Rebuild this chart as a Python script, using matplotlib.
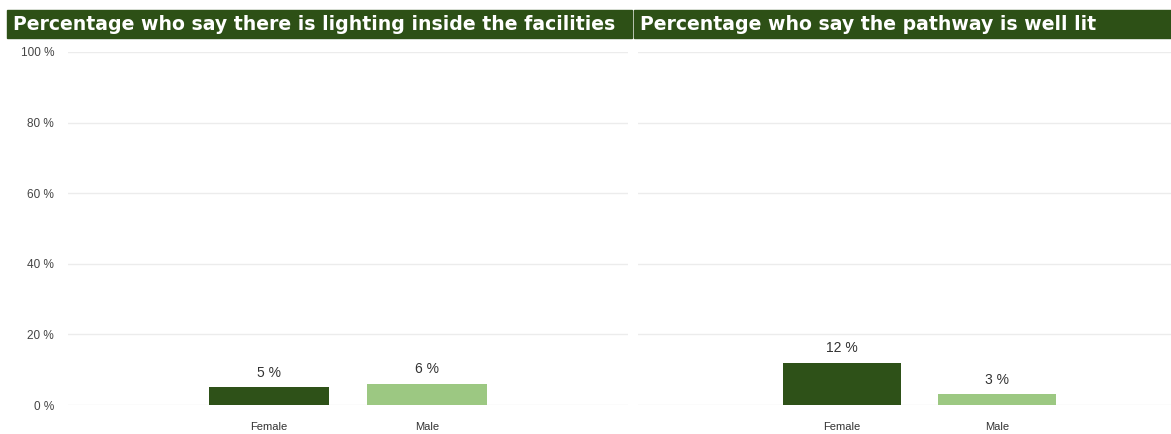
import matplotlib
matplotlib.use('Agg')
import matplotlib.pyplot as plt
from matplotlib.patches import Rectangle
from matplotlib.ticker import FuncFormatter

# survey results, percent of respondents
genders = ['Female', 'Male']
lighting_inside = [5, 6]
pathway_lit = [12, 3]
panel_titles = ['Percentage who say there is lighting inside the facilities',
                'Percentage who say the pathway is well lit']

DARK = '#2e5118'
LIGHT = '#9cc882'
HEADER = '#2d5016'

plt.rcParams['font.family'] = ['Liberation Sans', 'DejaVu Sans']

fig = plt.figure(figsize=(11.71, 4.34), dpi=100)
W, H = 1171.0, 434.0


def px_axes(x0, x1, y_top, y_bot):
    return fig.add_axes([x0 / W, 1 - y_bot / H, (x1 - x0) / W, (y_bot - y_top) / H])


def draw_panel(ax, values, xlim, show_yticks):
    x = range(len(genders))
    ax.bar(x, values, width=0.76, color=[DARK, LIGHT], zorder=3)
    for xi, v in zip(x, values):
        ax.text(xi, v + 2.2, '%d %%' % v, ha='center', va='bottom',
                fontsize=10, color='#333333')
    ax.set_xlim(*xlim)
    ax.set_ylim(0, 100)
    ax.set_yticks([0, 20, 40, 60, 80, 100])
    ax.yaxis.set_major_formatter(FuncFormatter(lambda v, p: '%d %%' % v))
    ax.grid(axis='y', color='#ececec', linewidth=1.0, zorder=0)
    ax.set_xticks(list(x))
    ax.set_xticklabels(genders, fontsize=8, color='#333333')
    ax.tick_params(axis='x', length=0, pad=12)
    ax.tick_params(axis='y', length=0, labelsize=8.5, labelcolor='#444444', pad=10)
    if not show_yticks:
        ax.tick_params(axis='y', labelleft=False)
    for s in ax.spines.values():
        s.set_visible(False)


ax1 = px_axes(68, 628, 52, 405)
draw_panel(ax1, lighting_inside, (-1.275, 2.275), True)

ax2 = px_axes(638, 1171, 52, 405)
draw_panel(ax2, pathway_lit, (-1.31, 2.12), False)

# header bars above each panel
for (x0, x1), title in zip([(7, 632), (634, 1171)], panel_titles):
    fig.patches.append(Rectangle((x0 / W, 1 - 38 / H), (x1 - x0) / W, 28 / H,
                                 transform=fig.transFigure, color=HEADER, zorder=0))
    fig.text((x0 + 6) / W, 1 - 24 / H, title, color='white', fontsize=13.6,
             fontweight='bold', family=['DejaVu Sans'], va='center', ha='left')

fig.savefig('out.png', dpi=100)
